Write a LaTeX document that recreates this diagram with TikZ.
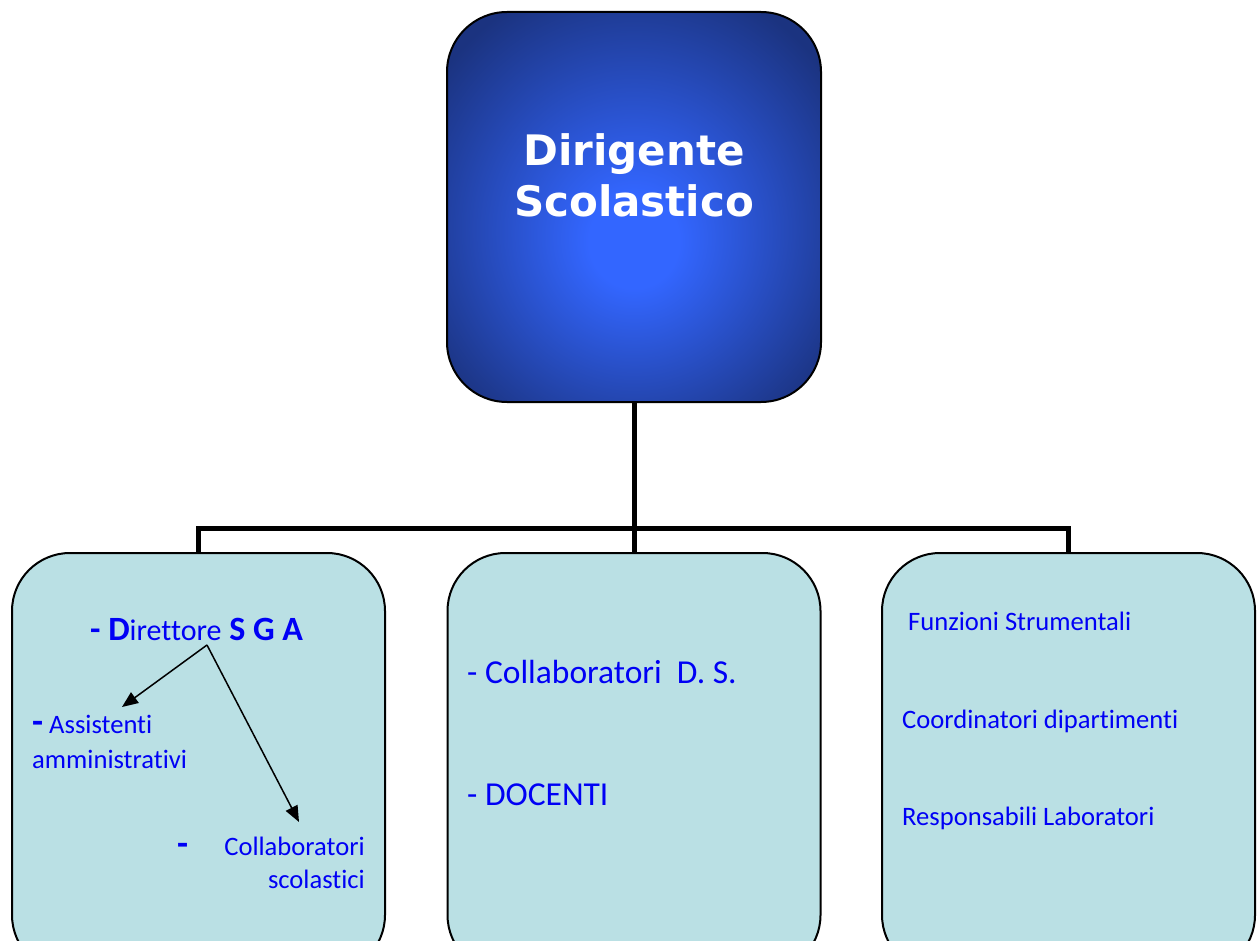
\documentclass[tikz,border=0pt]{standalone}
\usepackage{fontspec}
\setmainfont{Carlito}[Ligatures=NoCommon]
\newfontfamily\dsfont{DejaVu Sans}
\usetikzlibrary{arrows.meta}
\definecolor{boxfill}{RGB}{186,224,228}
\definecolor{txtblue}{RGB}{0,0,245}
\definecolor{glowin}{RGB}{51,102,255}
\definecolor{glowout}{RGB}{27,51,128}
\pgfdeclareradialshading{dsglow}{\pgfpoint{0bp}{-5bp}}{color(0bp)=(glowin); color(6bp)=(glowin); color(32bp)=(glowout); color(50bp)=(glowout)}
\newcommand{\fs}[1]{\fontsize{#1}{#1}\selectfont}
\begin{document}
\begin{tikzpicture}[x=1pt,y=-1pt,
    unitbox/.style={draw,line width=2pt,rounded corners=58pt,fill=boxfill,
        minimum width=373pt,minimum height=420pt,inner sep=0pt},
    dsbox/.style={draw,line width=2pt,rounded corners=60pt,shading=dsglow,
        minimum width=374pt,minimum height=390pt,inner sep=0pt},
    txt/.style={text=txtblue,inner sep=0pt,anchor=base west},
    busline/.style={line width=5pt,line join=miter},
    sgaarrow/.style={line width=1.5pt,-{Triangle[length=16pt,width=13pt]}}]
    \useasboundingbox (0,0) rectangle (1257,941);
    \clip (0,0) rectangle (1257,941);
    \fill[white] (0,0) rectangle (1257,941);
    \node[dsbox] (ds) at (634,207) {};
    \node[text=white,align=center,font=\dsfont\bfseries\fontsize{42}{51}\selectfont] (dstext) at (634,175) {Dirigente\\Scolastico};
    \node[unitbox] (sga) at (198.5,763) {};
    \node[unitbox] (doc) at (634,763) {};
    \node[unitbox] (fs) at (1068.5,763) {};
    \coordinate (bus) at (634,528);
    \draw[busline] (ds.south) -- (bus);
    \draw[busline] (sga.north) |- (bus) -| (fs.north);
    \draw[busline] (bus) -- (doc.north);
    \node[txt,font=\bfseries\fs{34}] (dir) at (90,640) {- D{\mdseries\fs{30}irettore} S G A};
    \node[txt,font=\fs{26.6}] (aa) at (32,733) {{\bfseries\fs{36}-} Assistenti};
    \node[txt,font=\fs{26.6}] (aa2) at (32,768) {amministrativi};
    \node[txt,font=\bfseries\fs{36}] (csdash) at (177,855) {-};
    \node[txt,anchor=base east,font=\fs{26.6}] (cs) at (365,855) {Collaboratori};
    \node[txt,anchor=base east,font=\fs{26.6}] (cs2) at (365,888) {scolastici};
    \coordinate (fork) at (207,645);
    \coordinate (toaa) at (122,707);
    \coordinate (tocs) at (299,822);
    \draw[sgaarrow] (fork) -- (toaa);
    \draw[sgaarrow] (fork) -- (tocs);
    \node[txt,font=\fs{33.5}] (cds) at (467,683) {- Collaboratori\ \ D. S.};
    \node[txt,font=\fs{33.5}] (docenti) at (467,805) {- DOCENTI};
    \node[txt,font=\fs{26.6}] (fstr) at (908,630) {Funzioni Strumentali};
    \node[txt,font=\fs{26.6}] (coord) at (902,728) {Coordinatori dipartimenti};
    \node[txt,font=\fs{26.6}] (resp) at (902,825) {Responsabili Laboratori};
\end{tikzpicture}
\end{document}
